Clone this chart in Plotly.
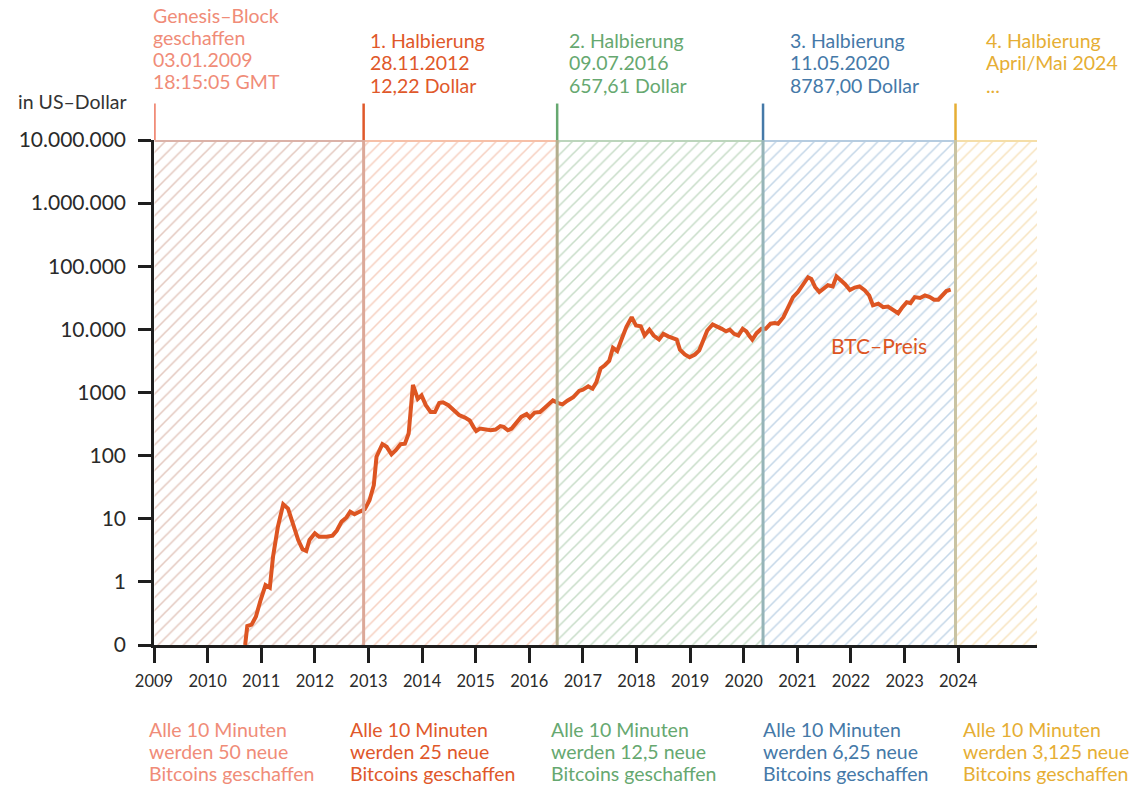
import plotly.graph_objects as go

# ---------------- data ----------------
years = [2009.00, 2010.70, 2010.74, 2010.82, 2010.90, 2010.99, 2011.08, 2011.16, 2011.22, 2011.31,
         2011.41, 2011.50, 2011.59, 2011.69, 2011.77, 2011.84, 2011.90, 2012.00, 2012.08, 2012.22,
         2012.33, 2012.41, 2012.50, 2012.59, 2012.66, 2012.74, 2012.84, 2012.93, 2013.02, 2013.10,
         2013.15, 2013.26, 2013.34, 2013.43, 2013.51, 2013.60, 2013.68, 2013.75, 2013.83, 2013.92,
         2013.99, 2014.07, 2014.16, 2014.24, 2014.32, 2014.39, 2014.49, 2014.58, 2014.69, 2014.80,
         2014.89, 2014.96, 2015.01, 2015.08, 2015.17, 2015.28, 2015.37, 2015.46, 2015.52, 2015.60,
         2015.67, 2015.76, 2015.85, 2015.95, 2016.01, 2016.10, 2016.20, 2016.29, 2016.37, 2016.44,
         2016.54, 2016.62, 2016.71, 2016.82, 2016.93, 2017.00, 2017.10, 2017.18, 2017.25, 2017.33,
         2017.41, 2017.49, 2017.56, 2017.64, 2017.72, 2017.81, 2017.91, 2017.99, 2018.08, 2018.15,
         2018.24, 2018.32, 2018.42, 2018.50, 2018.59, 2018.65, 2018.75, 2018.81, 2018.90, 2018.99,
         2019.09, 2019.17, 2019.24, 2019.32, 2019.42, 2019.50, 2019.59, 2019.67, 2019.74, 2019.82,
         2019.90, 2019.98, 2020.05, 2020.10, 2020.16, 2020.24, 2020.33, 2020.41, 2020.50, 2020.58,
         2020.64, 2020.74, 2020.83, 2020.92, 2021.01, 2021.11, 2021.20, 2021.26, 2021.33, 2021.41,
         2021.48, 2021.57, 2021.66, 2021.73, 2021.81, 2021.89, 2021.98, 2022.07, 2022.16, 2022.26,
         2022.34, 2022.41, 2022.51, 2022.60, 2022.69, 2022.79, 2022.88, 2022.96, 2023.04, 2023.11,
         2023.19, 2023.29, 2023.38, 2023.47, 2023.55, 2023.63, 2023.71, 2023.78, 2023.86]
prices = [0, 0, 0.2, 0.21, 0.28, 0.52, 0.89, 0.81, 2.5, 7.4,
          17, 14.5, 8.5, 4.6, 3.3, 3.1, 4.6, 5.9, 5.2, 5.2,
          5.4, 6.5, 9.0, 10.5, 12.9, 11.8, 13, 14.1, 19.6, 34,
          96, 152, 138, 105, 122, 152, 155, 224, 1320, 790,
          900, 630, 490, 490, 680, 700, 630, 525, 440, 400,
          360, 283, 245, 268, 259, 252, 259, 293, 285, 252,
          268, 340, 410, 455, 400, 480, 490, 575, 680, 750,
          680, 650, 740, 840, 1060, 1110, 1250, 1150, 1450, 2400,
          2700, 3160, 5100, 4550, 6900, 10900, 15600, 11500, 11200, 8000,
          9900, 8000, 6900, 8500, 7750, 7400, 6900, 4780, 4000, 3620,
          4000, 4650, 6300, 9600, 12000, 10900, 10200, 9300, 9900, 8500,
          8000, 10200, 9300, 8000, 6900, 8700, 10200, 10200, 12300, 12600,
          12300, 15600, 22500, 32500, 39000, 53000, 67000, 63000, 47000, 39000,
          44000, 50000, 48000, 69000, 60000, 52000, 42000, 46000, 48000, 41500,
          34500, 24000, 25500, 22500, 23000, 20400, 18000, 22500, 27000, 26000,
          32500, 31500, 34500, 32500, 29500, 29500, 34500, 40500, 42500]

# epoch boundaries (decimal years): genesis, halvings, end of axis
epoch_starts = [2009.01, 2012.91, 2016.52, 2020.36, 2023.95]
epoch_ends = [2012.91, 2016.52, 2020.36, 2023.95, 2025.47]

top_labels = [
    ["Genesis–Block", "geschaffen", "03.01.2009", "18:15:05 GMT"],
    ["1. Halbierung", "28.11.2012", "12,22 Dollar"],
    ["2. Halbierung", "09.07.2016", "657,61 Dollar"],
    ["3. Halbierung", "11.05.2020", "8787,00 Dollar"],
    ["4. Halbierung", "April/Mai 2024", "..."],
]
bottom_labels = [
    ["Alle 10 Minuten", "werden 50 neue", "Bitcoins geschaffen"],
    ["Alle 10 Minuten", "werden 25 neue", "Bitcoins geschaffen"],
    ["Alle 10 Minuten", "werden 12,5 neue", "Bitcoins geschaffen"],
    ["Alle 10 Minuten", "werden 6,25 neue", "Bitcoins geschaffen"],
    ["Alle 10 Minuten", "werden 3,125 neue", "Bitcoins geschaffen"],
]

ytick_vals = [0.1, 1, 10, 100, 1000, 1e4, 1e5, 1e6, 1e7]
ytick_text = ["0", "1", "10", "100", "1000", "10.000", "100.000", "1.000.000", "10.000.000"]
xtick_vals = list(range(2009, 2025))

# ---------------- styling ----------------
text_colors = ["#f08c78", "#e0582a", "#66a870", "#4579a8", "#e6ae34"]
hatch_colors = ["#c8927f", "#ee9f80", "#8fba90", "#88add0", "#efc77e"]
top_border_colors = ["#dbb2a8", "#f6c0a8", "#bcd5bc", "#b6cce0", "#f5dea8"]
boundary_colors = ["#222222", "#dca898", "#b4ae8e", "#96b4b8", "#c9c3a2"]
top_text_x = [151.7, 368.3, 567.3, 788.3, 984.3]
bottom_text_x = [147.7, 348.3, 549.0, 761.0, 961.0]
price_color = "#dd5522"
FONT = "Lato"

W, H = 1146, 789
L, R, T, B = 154.3, 109, 139.5, 144
PW, PH = W - L - R, H - T - B


def xp(px):
    return (px - L) / PW


def yp(py):
    return (H - B - py) / PH


fig = go.Figure()

# hatched epoch regions
for i, (x0, x1) in enumerate(zip(epoch_starts, epoch_ends)):
    fig.add_trace(go.Scatter(
        x=[x0, x1, x1, x0, x0], y=[0.1, 0.1, 1e7, 1e7, 0.1],
        mode="lines", fill="toself", line=dict(width=0),
        fillcolor="rgba(255,255,255,0)",
        fillpattern=dict(shape="/", fgcolor=hatch_colors[i], bgcolor="rgba(255,255,255,0)",
                         size=9, solidity=0.17),
        hoverinfo="skip", showlegend=False))
    # top border
    fig.add_shape(type="line", xref="x", yref="y", x0=x0, x1=x1, y0=1e7, y1=1e7,
                  line=dict(color=top_border_colors[i], width=4), layer="above")
    # boundary inside plot
    if i > 0:
        fig.add_shape(type="line", xref="x", yref="paper", x0=x0, x1=x0, y0=0, y1=1,
                      line=dict(color=boundary_colors[i], width=3), layer="above")
    # coloured marker above plot
    fig.add_shape(type="line", xref="x", yref="paper", x0=x0, x1=x0, y0=1, y1=yp(103),
                  line=dict(color=text_colors[i], width=2.5), layer="above")

# price line: the flat zero stretch lies on (and is hidden by) the x axis,
# so the drawn line starts at the last zero value
first = max(i for i, p in enumerate(prices) if p == 0)
fig.add_trace(go.Scatter(
    x=years[first:], y=[max(p, 0.1) for p in prices[first:]], mode="lines",
    line=dict(color=price_color, width=4), hoverinfo="skip", showlegend=False))

annotations = []


def add_text(txt, px, py, color, size=19.5):
    annotations.append(dict(text=txt, x=xp(px), y=yp(py), xref="paper", yref="paper",
                            xanchor="left", yanchor="middle", showarrow=False,
                            font=dict(family=FONT, size=size, color=color)))


for i, lines in enumerate(top_labels):
    y0 = 14.5 if i == 0 else 40.0
    for j, t in enumerate(lines):
        add_text(t, top_text_x[i], y0 + 22.3 * j, text_colors[i])

for i, lines in enumerate(bottom_labels):
    for j, t in enumerate(lines):
        add_text(t, bottom_text_x[i], 729.7 + 21.8 * j, text_colors[i])

add_text("in US–Dollar", 16.7, 100.5, "#333333")
add_text("BTC–Preis", 829, 345, price_color, size=21)

fig.update_layout(
    width=W, height=H,
    margin=dict(l=L, r=R, t=T, b=B, autoexpand=False),
    paper_bgcolor="white", plot_bgcolor="white",
    showlegend=False,
    annotations=annotations,
    xaxis=dict(range=[2009, 2025.47], tickvals=xtick_vals, ticktext=[str(v) for v in xtick_vals],
               showgrid=False, zeroline=False, showline=True, linecolor="#1e1e1e", linewidth=2.6,
               ticks="outside", ticklen=15, tickwidth=2.6, tickcolor="#1e1e1e",
               tickfont=dict(family=FONT, size=16.5, color="#2a2a2a"), ticklabelstandoff=4),
    yaxis=dict(type="log", range=[-1, 7], tickvals=ytick_vals, ticktext=ytick_text,
               showgrid=False, zeroline=False, showline=True, linecolor="#1e1e1e", linewidth=2.6,
               ticks="outside", ticklen=13, tickwidth=2.6, tickcolor="#1e1e1e",
               tickfont=dict(family=FONT, size=21, color="#2a2a2a"), ticklabelstandoff=8),
)

fig.write_html("out.html", config={"displayModeBar": False},
               post_script="document.body.style.margin='0px';document.body.style.overflow='hidden';")
